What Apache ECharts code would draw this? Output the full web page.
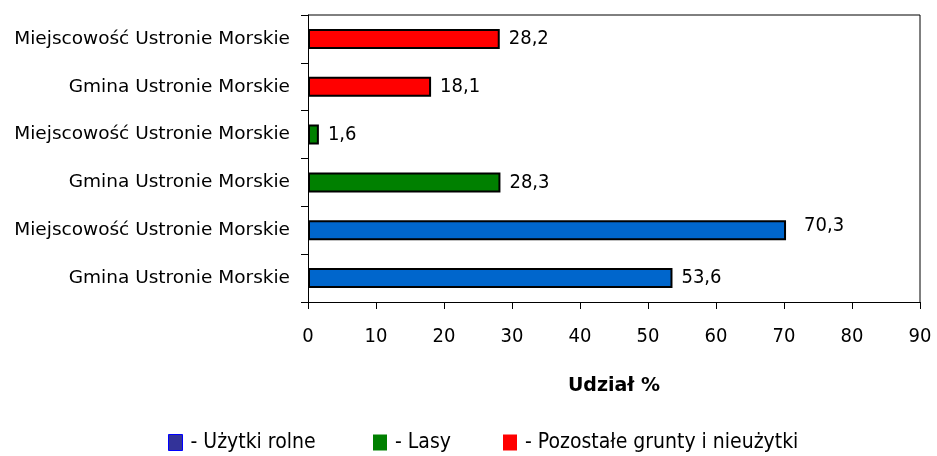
<!DOCTYPE html>
<html>
<head>
<meta charset="utf-8">
<script src="https://cdn.jsdelivr.net/npm/echarts@6/dist/echarts.min.js"></script>
<style>
  html, body { margin: 0; padding: 0; background: #fff; }
  #chart { width: 937px; height: 456px; }
</style>
</head>
<body>
<div id="chart"></div>
<script>
// bottom -> top
const categories = [
    'Gmina Ustronie Morskie',
    'Miejscowość Ustronie Morskie',
    'Gmina Ustronie Morskie ',
    'Miejscowość Ustronie Morskie ',
    'Gmina Ustronie Morskie  ',
    'Miejscowość Ustronie Morskie  '
];
const uzytkiRolne = [53.6, 70.3, '-', '-', '-', '-'];
const lasy = ['-', '-', 28.3, 1.6, '-', '-'];
const pozostale = ['-', '-', '-', '-', 18.1, 28.2];
const xTicks = [0, 10, 20, 30, 40, 50, 60, 70, 80, 90];

const font = 'DejaVu Sans';
const numFont = 'DejaVu Sans Condensed';

const chart = echarts.init(document.getElementById('chart'));

const makeSeries = (name, data, color) => ({
    name: name,
    type: 'bar',
    stack: 'all',
    barWidth: 20,
    data: data.map(v => v === 70.3
        ? { value: v, label: { distance: 18, offset: [0, -4] } }
        : v),
    itemStyle: { color: color, borderColor: '#000', borderWidth: 2 },
    label: {
        show: true,
        position: 'right',
        distance: 9,
        color: '#000',
        fontFamily: numFont,
        fontSize: 20,
        formatter: p => String(p.value).replace('.', ',')
    }
});

const legendText = { fontFamily: numFont, fontSize: 21, color: '#000', padding: [0, 0, 0, 3] };
const makeLegend = (name, left, itemStyle) => ({
    bottom: -2,
    left: left,
    itemWidth: 14,
    itemHeight: 16,
    icon: 'rect',
    textStyle: legendText,
    formatter: n => '- ' + n,
    data: [{ name: name, itemStyle: itemStyle }]
});

chart.setOption({
    animation: false,
    grid: { left: 308, right: 17, top: 15, bottom: 154 },
    xAxis: {
        type: 'value',
        min: 0,
        max: 90,
        interval: 10,
        name: 'Udział %',
        nameLocation: 'middle',
        nameGap: 75,
        nameTextStyle: { fontFamily: font, fontSize: 19, fontWeight: 'bold', color: '#000' },
        axisLine: { show: true, lineStyle: { color: '#000', width: 1 } },
        axisTick: { show: true, length: 7, lineStyle: { color: '#000' } },
        axisLabel: {
            color: '#000', fontFamily: numFont, fontSize: 20, margin: 25,
            formatter: v => xTicks.includes(v) ? String(v) : ''
        },
        splitLine: { show: false }
    },
    yAxis: {
        type: 'category',
        data: categories,
        axisLine: { show: true, lineStyle: { color: '#000', width: 1 } },
        axisTick: { show: true, length: 7, lineStyle: { color: '#000' } },
        axisLabel: {
            color: '#000', fontFamily: font, fontSize: 18.5, margin: 18,
            formatter: v => v.trim()
        }
    },
    graphic: [{
        type: 'polyline',
        shape: { points: [[308, 15], [920, 15], [920, 302]] },
        style: { stroke: '#000', lineWidth: 1, fill: null }
    }],
    legend: [
        makeLegend('Użytki rolne', 163, { color: '#333399', borderColor: '#0000ff', borderWidth: 1 }),
        makeLegend('Lasy', 368, { color: '#008000', borderWidth: 0 }),
        makeLegend('Pozostałe grunty i nieużytki', 498, { color: '#ff0000', borderWidth: 0 })
    ],
    series: [
        makeSeries('Użytki rolne', uzytkiRolne, '#0066cc'),
        makeSeries('Lasy', lasy, '#008000'),
        makeSeries('Pozostałe grunty i nieużytki', pozostale, '#ff0000')
    ]
});
</script>
</body>
</html>
